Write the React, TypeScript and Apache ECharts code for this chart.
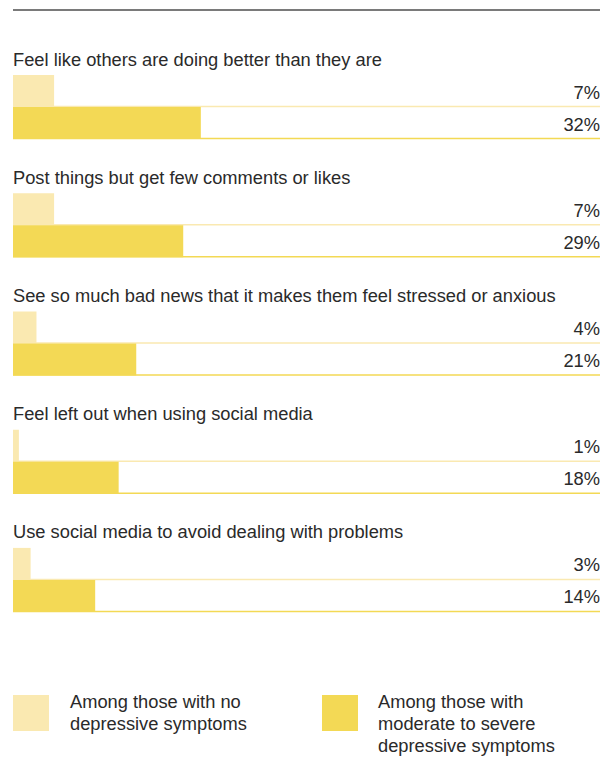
import React, { useEffect, useRef } from "react";
import * as echarts from "echarts";

const categories = [
  "Feel like others are doing better than they are",
  "Post things but get few comments or likes",
  "See so much bad news that it makes them feel stressed or anxious",
  "Feel left out when using social media",
  "Use social media to avoid dealing with problems",
];
const noSymptoms = [7, 7, 4, 1, 3];
const moderateSevere = [32, 29, 21, 18, 14];
const seriesNames = [
  "Among those with no\ndepressive symptoms",
  "Among those with\nmoderate to severe\ndepressive symptoms",
];

const LIGHT = "#FAE9B1";
const DARK = "#F3D955";
const TEXT = "#2a2a2a";
const FONT = "18.3px 'Liberation Sans', Arial, sans-serif";

export default function App() {
  const ref = useRef<HTMLDivElement>(null);
  useEffect(() => {
    document.body.style.margin = "0";
    const chart = echarts.init(ref.current!, null, { renderer: "svg" });
    const makeRender = (s: number) => (params: any, api: any) => {
      const idx = api.value(1);
      const v = api.value(0);
      const [x0, yc] = api.coord([0, idx]);
      const xv = api.coord([v, idx])[0];
      const xEnd = api.coord([100, idx])[0];
      const barH = 32;
      const top = s === 0 ? yc - barH : yc;
      const fill = s === 0 ? LIGHT : DARK;
      const children: any[] = [
        {
          type: "line",
          shape: { x1: x0, y1: top + barH - 0.5, x2: xEnd, y2: top + barH - 0.5 },
          style: { stroke: fill, lineWidth: 1.5 },
        },
        {
          type: "rect",
          shape: { x: x0, y: top, width: xv - x0, height: barH },
          style: { fill },
        },
        {
          type: "text",
          x: xEnd,
          y: top + barH / 2 + 1,
          style: {
            text: v + "%",
            fill: TEXT,
            font: FONT,
            textAlign: "right",
            textVerticalAlign: "middle",
          },
        },
      ];
      if (s === 0) {
        children.push({
          type: "text",
          x: x0,
          y: yc - 48,
          style: {
            text: categories[idx],
            fill: TEXT,
            font: FONT,
            textAlign: "left",
            textVerticalAlign: "middle",
          },
        });
      }
      return { type: "group", children };
    };
    chart.setOption({
      animation: false,
      grid: { left: 13, right: 14, top: 48, height: 591, containLabel: false },
      xAxis: { type: "value", min: 0, max: 100, show: false },
      yAxis: { type: "category", data: categories, inverse: true, show: false },
      series: [
        {
          name: seriesNames[0],
          type: "custom",
          renderItem: makeRender(0),
          data: noSymptoms.map((v, i) => [v, i]),
          clip: false,
        },
        {
          name: seriesNames[1],
          type: "custom",
          renderItem: makeRender(1),
          data: moderateSevere.map((v, i) => [v, i]),
          clip: false,
        },
      ],
      graphic: [
        {
          type: "line",
          shape: { x1: 13, y1: 10, x2: 600, y2: 10 },
          style: { stroke: "#7a7a7a", lineWidth: 2 },
        },
        { type: "rect", shape: { x: 13, y: 695, width: 36, height: 36 }, style: { fill: LIGHT } },
        {
          type: "text",
          x: 70,
          y: 690,
          style: { text: seriesNames[0], fill: TEXT, font: FONT, lineHeight: 22, textVerticalAlign: "top" },
        },
        { type: "rect", shape: { x: 322, y: 695, width: 36, height: 36 }, style: { fill: DARK } },
        {
          type: "text",
          x: 378,
          y: 690,
          style: { text: seriesNames[1], fill: TEXT, font: FONT, lineHeight: 22, textVerticalAlign: "top" },
        },
      ],
    });
    return () => chart.dispose();
  }, []);
  return <div ref={ref} style={{ width: 614, height: 757 }} />;
}
